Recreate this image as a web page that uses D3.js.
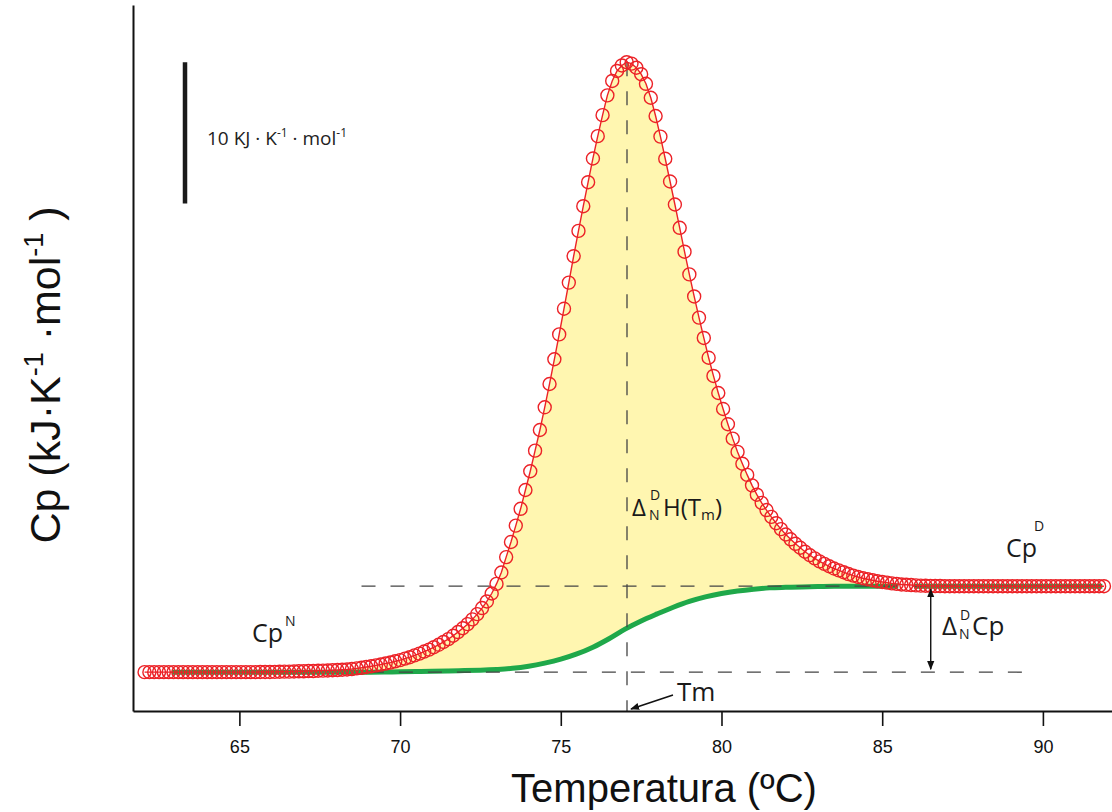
<!DOCTYPE html>
<html>
<head>
<meta charset="utf-8">
<script src="https://cdn.jsdelivr.net/npm/d3@7"></script>
<style>
body { margin: 0; background: #fff; }
svg { display: block; }
</style>
</head>
<body>
<script>
// DSC thermogram: excess heat capacity against temperature
var width = 1112, height = 812;

// measured points, one every 0.15 ºC from 62.05 ºC (kJ·K-1·mol-1 above the native baseline)
var tStart = 62.05, tStep = 0.15;
var cpPoints = [
  0, 0, 0, 0, 0, 0, 0, 0, 0, 0,
  0, 0, 0, 0, 0, 0, 0, 0, 0, 0,
  0, 0, 0, 0.00, 0.01, 0.01, 0.01, 0.02, 0.03, 0.04,
  0.04, 0.05, 0.06, 0.06, 0.08, 0.08, 0.10, 0.11, 0.12, 0.14,
  0.15, 0.17, 0.19, 0.22, 0.27, 0.31, 0.37, 0.42, 0.48, 0.54,
  0.61, 0.68, 0.77, 0.85, 0.96, 1.06, 1.19, 1.31, 1.46, 1.60,
  1.77, 1.94, 2.14, 2.34, 2.58, 2.84, 3.11, 3.40, 3.74, 4.11,
  4.54, 5.01, 5.57, 6.25, 7.06, 8.15, 9.22, 10.38, 11.57, 12.90,
  14.23, 15.69, 17.15, 18.76, 20.41, 22.16, 23.92, 25.74, 27.59, 29.46,
  31.25, 33.00, 34.70, 36.38, 37.96, 39.45, 40.85, 41.87, 42.58, 42.97,
  43.20, 43.10, 42.81, 42.35, 41.67, 40.68, 39.39, 37.93, 36.36, 34.75,
  33.12, 31.47, 29.78, 28.17, 26.61, 25.11, 23.67, 22.27, 20.98, 19.77,
  18.64, 17.56, 16.54, 15.60, 14.76, 13.97, 13.23, 12.57, 11.99, 11.48,
  11.00, 10.55, 10.13, 9.75, 9.41, 9.09, 8.81, 8.53, 8.28, 8.06,
  7.85, 7.67, 7.50, 7.34, 7.21, 7.08, 6.95, 6.84, 6.74, 6.65,
  6.58, 6.51, 6.44, 6.39, 6.34, 6.29, 6.25, 6.21, 6.19, 6.17,
  6.15, 6.13, 6.12, 6.11, 6.10, 6.10, 6.09, 6.09, 6.09, 6.09,
  6.09, 6.09, 6.09, 6.09, 6.09, 6.09, 6.09, 6.09, 6.09, 6.09,
  6.09, 6.09, 6.09, 6.09, 6.09, 6.09, 6.09, 6.09, 6.09, 6.09,
  6.09, 6.09, 6.09, 6.09, 6.09, 6.09, 6.09, 6.09, 6.09, 6.09
];

// progress baseline (green curve)
var baseT = [68.5, 69, 69.5, 70, 70.5, 71, 71.5, 72, 72.5, 73, 73.5, 74, 74.5, 75, 75.5, 76, 76.5,
  77, 77.5, 78, 78.5, 79, 79.5, 80, 80.5, 81, 81.5, 82, 82.5, 83, 83.5, 84, 84.5, 85, 85.5];
var baseCp = [0, 0, 0.01, 0.03, 0.04, 0.06, 0.08, 0.11, 0.14, 0.19, 0.27, 0.42, 0.64, 0.92, 1.29, 1.77, 2.37,
  3.05, 3.63, 4.13, 4.60, 5.01, 5.33, 5.57, 5.75, 5.88, 5.97, 6.01, 6.04, 6.06, 6.08, 6.08, 6.09, 6.09, 6.09];

var cpN = 0, cpD = 6.09, tm = 77.06;
var nRange = [62.9, 68.85], dRange = [86.0, 91.85];
var xTicks = [65, 70, 75, 80, 85, 90];
var scaleBar = [33.2, 43.2];   // 10 kJ·K-1·mol-1
var arrowT = 86.51;

var red = "#ec2227", green = "#1fa84a", yellow = "#fff6b0", dash = "#444";

var svg = d3.select("body").append("svg")
    .attr("width", width).attr("height", height);

var x = d3.scaleLinear().domain([61.69, 92.15]).range([133, 1112]);
var y = d3.scaleLinear().domain([-2.75, 47.25]).range([711, 5]);

var points = cpPoints.map(function(v, i) { return {t: tStart + i * tStep, cp: v}; });
var base = baseT.map(function(t, i) { return {t: t, cp: baseCp[i]}; });

var lin = d3.line().x(function(d) { return x(d.t); }).y(function(d) { return y(d.cp); });
var smooth = d3.line().x(function(d) { return x(d.t); }).y(function(d) { return y(d.cp); })
    .curve(d3.curveCatmullRom);

svg.append("defs").append("marker")
    .attr("id", "head")
    .attr("viewBox", "0 0 10 10")
    .attr("refX", 9).attr("refY", 5)
    .attr("markerWidth", 9).attr("markerHeight", 9)
    .attr("markerUnits", "userSpaceOnUse")
    .attr("orient", "auto-start-reverse")
  .append("path")
    .attr("d", "M0,1 L10,5 L0,9 Z")
    .attr("fill", "#111");

// yellow area between the data and the progress baseline
var redSub = points.filter(function(d) { return d.t >= 68.5 && d.t <= 85.5; });
var fillPath = lin(redSub) + smooth(base.slice().reverse()).replace(/^M/, "L") + "Z";
svg.append("path").attr("d", fillPath).attr("fill", yellow);

// green baselines
svg.append("path").attr("d", smooth(base))
    .attr("fill", "none").attr("stroke", green).attr("stroke-width", 5);
svg.append("path").attr("d", lin([{t: nRange[0], cp: cpN}, {t: nRange[1], cp: cpN}]))
    .attr("stroke", green).attr("stroke-width", 5);
svg.append("path").attr("d", lin([{t: dRange[0], cp: cpD}, {t: dRange[1], cp: cpD}]))
    .attr("stroke", green).attr("stroke-width", 5);

// dashed guides
function dashed(x1, y1, x2, y2) {
  svg.append("line")
      .attr("x1", x1).attr("y1", y1).attr("x2", x2).attr("y2", y2)
      .attr("stroke", dash).attr("stroke-width", 1.3)
      .attr("stroke-dasharray", "14,15");
}
dashed(x(68.8), y(cpD), x(92), y(cpD));
dashed(x(69.06), y(cpN), x(89.5), y(cpN));
dashed(x(tm), y(d3.max(cpPoints)), x(tm), y(-2.75));

// data: line and open circles
svg.append("path").attr("d", lin(points))
    .attr("fill", "none").attr("stroke", red).attr("stroke-width", 1.4);
svg.selectAll(".pt").data(points).enter().append("circle")
    .attr("class", "pt")
    .attr("cx", function(d) { return x(d.t); })
    .attr("cy", function(d) { return y(d.cp); })
    .attr("r", 6.5)
    .attr("fill", "none").attr("stroke", red).attr("stroke-width", 1.4);

// axes
var xAxis = svg.append("g")
    .attr("transform", "translate(0," + y(-2.75) + ")")
    .call(d3.axisBottom(x).tickValues(xTicks).tickSize(15).tickSizeOuter(0).tickPadding(14));
xAxis.select(".domain").attr("stroke-width", 2).attr("stroke", "#111");
xAxis.selectAll(".tick line").attr("stroke-width", 1.6).attr("stroke", "#111");
xAxis.selectAll(".tick text")
    .attr("font-family", "'Liberation Sans Narrow', 'Arial Narrow', sans-serif")
    .attr("font-size", 18).attr("fill", "#111");

var yAxis = svg.append("g")
    .attr("transform", "translate(" + x(61.69) + ",0)")
    .call(d3.axisLeft(y).tickValues([]).tickSizeOuter(0));
yAxis.select(".domain").attr("stroke-width", 2).attr("stroke", "#111");

// axis titles
svg.append("text")
    .attr("x", 664).attr("y", 802)
    .attr("text-anchor", "middle")
    .attr("font-family", "'Liberation Sans Narrow', 'Arial Narrow', sans-serif")
    .attr("font-size", 40).attr("fill", "#111")
    .text("Temperatura (ºC)");

var yt = svg.append("text")
    .attr("transform", "translate(60,375) rotate(-90)")
    .attr("text-anchor", "middle")
    .attr("font-family", "'Liberation Sans', Arial, sans-serif")
    .attr("font-size", 43).attr("fill", "#111");
yt.append("tspan").text("Cp (kJ·K");
yt.append("tspan").attr("dy", -17).attr("font-size", 27).text("-1");
yt.append("tspan").attr("dy", 17).text(" ·mol");
yt.append("tspan").attr("dy", -17).attr("font-size", 27).text("-1");
yt.append("tspan").attr("dy", 17).text(" )");

// scale bar
svg.append("line")
    .attr("x1", 185).attr("x2", 185)
    .attr("y1", y(scaleBar[0])).attr("y2", y(scaleBar[1]))
    .attr("stroke", "#1a1a1a").attr("stroke-width", 4.5);
var st = svg.append("text")
    .attr("x", 207).attr("y", 145)
    .attr("font-family", "'Open Sans', sans-serif")
    .attr("font-size", 19).attr("fill", "#222");
st.append("tspan").text("10 KJ · K");
st.append("tspan").attr("dy", -8).attr("font-size", 12).text("-1");
st.append("tspan").attr("dy", 8).text(" · mol");
st.append("tspan").attr("dy", -8).attr("font-size", 12).text("-1");

// labels
var lab = "'Open Sans', sans-serif";
function label(tx, ty, size, str) {
  return svg.append("text").attr("x", tx).attr("y", ty)
      .attr("font-family", lab).attr("font-size", size).attr("fill", "#1a1a1a").text(str);
}
label(252, 642, 25, "Cp");
label(285, 626, 14, "N");
label(1006, 557, 25, "Cp");
label(1034, 531, 14, "D");

label(942, 635, 26, "Δ");
label(959, 639, 14, "N");
label(960, 620, 14, "D");
label(972, 635, 26, "Cp");

label(632, 516, 24, "Δ");
label(649, 520, 14, "N");
label(650, 500, 14, "D");
var h = label(663, 516, 24, "H(T");
h.append("tspan").attr("dy", 4).attr("font-size", 15).text("m");
h.append("tspan").attr("dy", -4).text(")");

label(677, 701, 26, "Tm");

// arrows
svg.append("line")
    .attr("x1", 673).attr("y1", 695)
    .attr("x2", x(tm) + 4).attr("y2", y(-2.75) - 2)
    .attr("stroke", "#111").attr("stroke-width", 1.4)
    .attr("marker-end", "url(#head)");
svg.append("line")
    .attr("x1", x(arrowT)).attr("x2", x(arrowT))
    .attr("y1", y(cpD) + 3).attr("y2", y(cpN) - 3)
    .attr("stroke", "#111").attr("stroke-width", 1.4)
    .attr("marker-start", "url(#head)")
    .attr("marker-end", "url(#head)");
</script>
</body>
</html>
